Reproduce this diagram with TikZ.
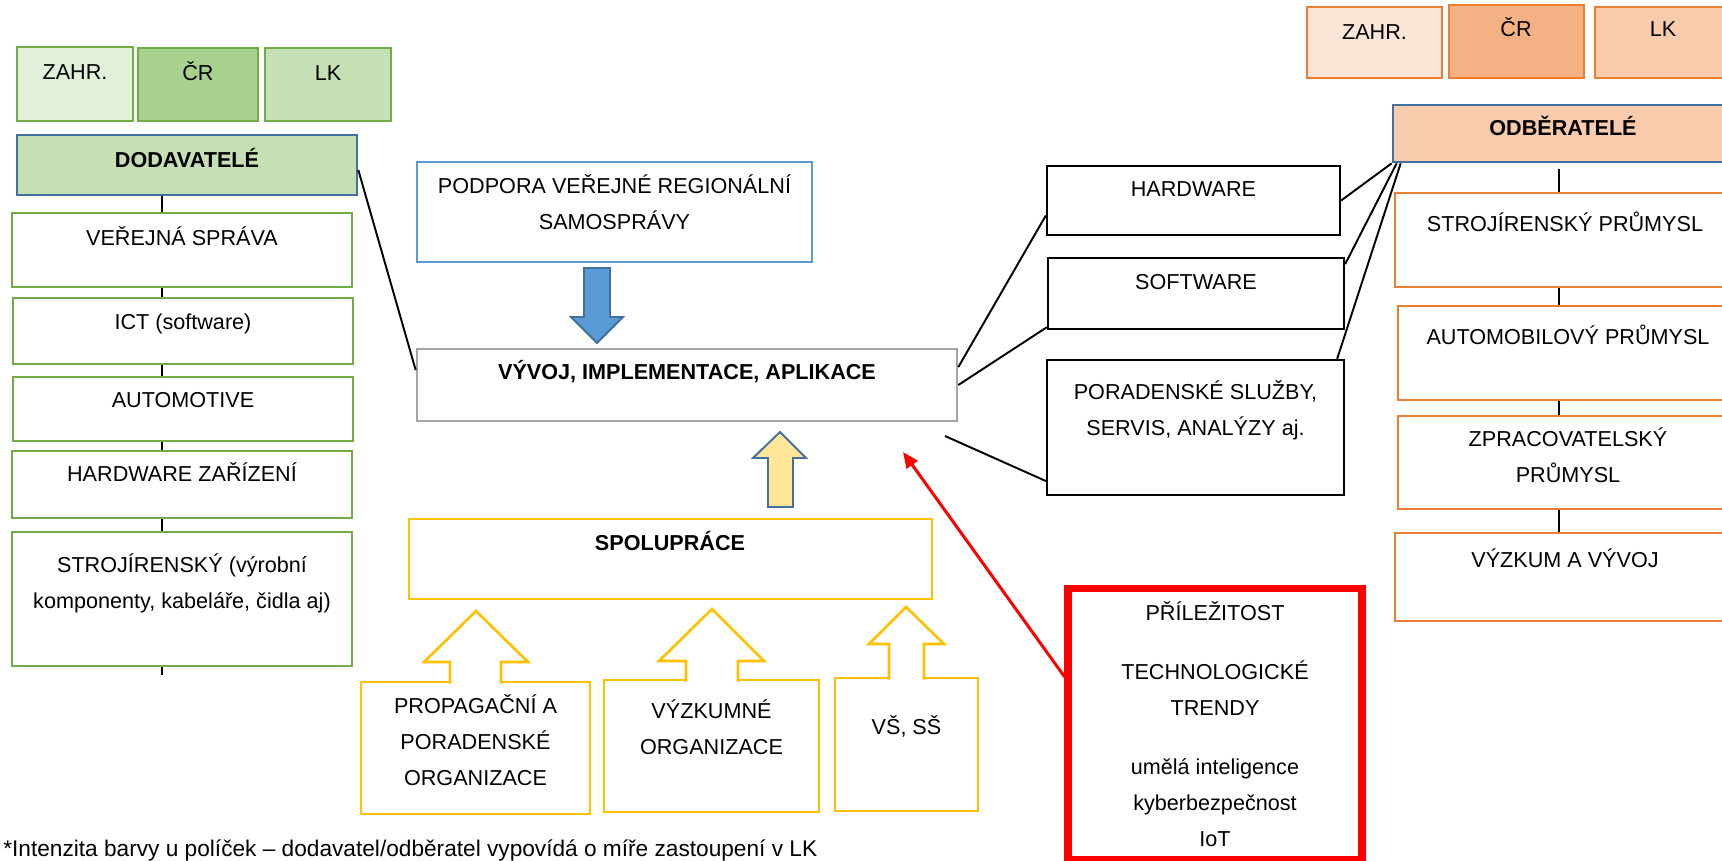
\documentclass[tikz,border=0pt]{standalone}
\usepackage{fontspec}
\setmainfont{Liberation Sans}
\usetikzlibrary{fit,calc,arrows.meta}

\definecolor{grn}{HTML}{70AD47}
\definecolor{grnA}{HTML}{E2F0D9}
\definecolor{grnB}{HTML}{A9D18E}
\definecolor{grnC}{HTML}{C5E0B4}
\definecolor{org}{HTML}{ED7D31}
\definecolor{orgA}{HTML}{FBE5D6}
\definecolor{orgB}{HTML}{F4B183}
\definecolor{orgC}{HTML}{F8CBAD}
\definecolor{navy}{HTML}{41719C}
\definecolor{sky}{HTML}{5B9BD5}
\definecolor{gry}{HTML}{A5A5A5}
\definecolor{ylw}{HTML}{FFC000}
\definecolor{ylwA}{HTML}{FFE699}

\tikzset{
  cell/.style={draw, inner sep=0pt, line width=1.5pt},
  gcell/.style={cell, draw=grn},
  ocell/.style={cell, draw=org},
  ycell/.style={cell, draw=ylw},
  kcell/.style={cell, draw=black, line width=1.3pt},
  headcell/.style={cell, draw=navy},
  txt/.style={font=\fontsize{12.3}{20.5}\selectfont, inner sep=0pt, text height=8.8pt, text depth=0pt},
  btxt/.style={txt, font=\fontsize{12.3}{20.5}\selectfont\bfseries},
  mtxt/.style={font=\fontsize{12.3}{20.5}\selectfont, inner sep=0pt, align=center},
  link/.style={line width=1.1pt},
  vlink/.style={line width=1.3pt},
  blockarrow/.style={line width=1.1pt, draw=navy, line join=miter},
  hollowarrow/.style={line width=1.5pt, draw=ylw, fill=white, line join=miter},
}

\begin{document}
\begin{tikzpicture}[x=0.02cm, y=-0.02cm]
    \useasboundingbox (0,0) rectangle (1722,861);
    \clip (0,0) rectangle (1722,861);

    % dodavatele
    \node[gcell, fill=grnA, fit={(17,47) (133,121)}] (lzahr) {};
    \node[gcell, fill=grnB, fit={(138,48) (258,121)}] (lcr) {};
    \node[gcell, fill=grnC, fit={(265,48) (391,121)}] (llk) {};
    \node[headcell, fill=grnC, fit={(17,135) (357,195)}] (dod) {};
    \node[gcell, fit={(12,213) (352,287)}] (vs) {};
    \node[gcell, fit={(13,298) (353,364)}] (ict) {};
    \node[gcell, fit={(13,377) (353,441)}] (aut) {};
    \node[gcell, fit={(12,451) (352,518)}] (hwz) {};
    \node[gcell, fit={(12,532) (352,666)}] (str) {};

    \node[txt] (lzahr-t) at (75,72) {ZAHR.};
    \node[txt] (lcr-t) at (198,73) {ČR};
    \node[txt] (llk-t) at (328,73) {LK};
    \node[btxt] (dod-t) at (187,160) {DODAVATELÉ};
    \node[txt] (vs-t) at (182,238) {VEŘEJNÁ SPRÁVA};
    \node[txt] (ict-t) at (183,322) {ICT (software)};
    \node[txt] (aut-t) at (183,400) {AUTOMOTIVE};
    \node[txt] (hwz-t) at (182,474) {HARDWARE ZAŘÍZENÍ};
    \node[mtxt] (str-t) at (182,582.9) {STROJÍRENSKÝ (výrobní\\komponenty, kabeláře, čidla aj)};

    \coordinate (lc) at (162,0);
    \draw[vlink] (dod.south -| lc) -- (vs.north -| lc);
    \draw[vlink] (vs.south -| lc) -- (ict.north -| lc);
    \draw[vlink] (ict.south -| lc) -- (aut.north -| lc);
    \draw[vlink] (aut.south -| lc) -- (hwz.north -| lc);
    \draw[vlink] (hwz.south -| lc) -- (str.north -| lc);
    \draw[vlink] (str.south -| lc) -- ++(0,8);

    % stred
    \node[cell, draw=sky, fit={(417,162) (812,262)}] (pod) {};
    \node[cell, draw=gry, fit={(417,349) (957,421)}] (vyv) {};
    \node[ycell, fit={(409,519) (932,599)}] (spo) {};
    \node[ycell, fit={(361,682) (590,814)}] (pro) {};
    \node[ycell, fit={(604,680) (819,812)}] (vyz) {};
    \node[ycell, fit={(835,678) (978,811)}] (vss) {};

    \node[mtxt] (pod-t) at (614.5,202) {PODPORA VEŘEJNÉ REGIONÁLNÍ\\SAMOSPRÁVY};
    \node[btxt] (vyv-t) at (687,372) {VÝVOJ, IMPLEMENTACE, APLIKACE};
    \node[btxt] (spo-t) at (670,543) {SPOLUPRÁCE};
    \node[mtxt] (pro-t) at (475.5,740.5) {PROPAGAČNÍ A\\PORADENSKÉ\\ORGANIZACE};
    \node[mtxt] (vyz-t) at (711.5,727) {VÝZKUMNÉ\\ORGANIZACE};
    \node[txt] (vss-t) at (906.5,727) {VŠ, SŠ};

    \draw[blockarrow, fill=sky] (584,268) -- (610,268) -- (610,317) -- (623,317) -- (597,343) -- (571,317) -- (584,317) -- cycle;
    \draw[blockarrow, fill=ylwA] (768,507) -- (793,507) -- (793,458) -- (806,458) -- (780,432) -- (753,458) -- (768,458) -- cycle;
    \draw[hollowarrow] (450,683.5) -- (450,662) -- (424,662) -- (476,611) -- (528,662) -- (501,662) -- (501,683.5);
    \draw[hollowarrow] (686,681.5) -- (686,661) -- (659,661) -- (712,609) -- (764,661) -- (738,661) -- (738,681.5);
    \draw[hollowarrow] (889,679.5) -- (889,644) -- (869,644) -- (906,607) -- (944,644) -- (924,644) -- (924,679.5);

    % prilezitost
    \node[cell, draw=red, line width=4pt, fit={(1068,588.5) (1362,859.5)}] (pri) {};
    \node[mtxt] (pri-t) at (1215,724) {PŘÍLEŽITOST\\[13.1pt] TECHNOLOGICKÉ\\ TRENDY\\[13.1pt] umělá inteligence\\ kyberbezpečnost\\ IoT};
    \coordinate (redtip) at (903,452);
    \draw[red, line width=1.7pt, -{Triangle[length=9pt,width=7.5pt]}] ($(pri.north west)!0.33!(pri.south west)$) -- (redtip);

    % vystupy
    \node[kcell, fit={(1047,166) (1340,235)}] (hw) {};
    \node[kcell, fit={(1048,258) (1344,329)}] (sw) {};
    \node[kcell, fit={(1047,360) (1344,495)}] (por) {};
    \node[txt] (hw-t) at (1193.5,189) {HARDWARE};
    \node[txt] (sw-t) at (1196,282) {SOFTWARE};
    \node[mtxt] (por-t) at (1195.5,410.4) {PORADENSKÉ SLUŽBY,\\SERVIS, ANALÝZY aj.};

    \draw[link] ($(dod.north east)!0.58!(dod.south east)$) -- ($(vyv.north west)!0.3!(vyv.south west)$);
    \draw[link] ($(vyv.north east)!0.26!(vyv.south east)$) -- ($(hw.north west)!0.71!(hw.south west)$);
    \draw[link] (vyv.east) -- ($(sw.north west)!0.96!(sw.south west)$);
    \coordinate (vyvend) at (945,436);
    \draw[link] (vyvend) -- ($(por.north west)!0.89!(por.south west)$);

    % odberatele
    \node[ocell, fill=orgA, fit={(1307,7) (1442,78)}] (rzahr) {};
    \node[ocell, fill=orgB, fit={(1449,5) (1584,78)}] (rcr) {};
    \node[ocell, fill=orgC, fit={(1595,7) (1731,78)}] (rlk) {};
    \node[headcell, fill=orgC, fit={(1393,105) (1733,162)}] (odb) {};
    \node[ocell, fit={(1395,193) (1735,287)}] (sp) {};
    \node[ocell, fit={(1398,306) (1738,400)}] (ap) {};
    \node[ocell, fit={(1398,416) (1738,509)}] (zp) {};
    \node[ocell, fit={(1395,533) (1735,621)}] (vv) {};

    \node[txt] (rzahr-t) at (1374.5,32) {ZAHR.};
    \node[txt] (rcr-t) at (1516,29) {ČR};
    \node[txt] (rlk-t) at (1663,29) {LK};
    \node[btxt] (odb-t) at (1563,128) {ODBĚRATELÉ};
    \node[txt] (sp-t) at (1565,224) {STROJÍRENSKÝ PRŮMYSL};
    \node[txt] (ap-t) at (1568,337) {AUTOMOBILOVÝ PRŮMYSL};
    \node[mtxt] (zp-t) at (1568,455) {ZPRACOVATELSKÝ\\PRŮMYSL};
    \node[txt] (vv-t) at (1565,560) {VÝZKUM A VÝVOJ};

    \draw[link] (odb.south west) -- (hw.east);
    \draw[link] ($(odb.south west)+(5,0)$) -- ($(sw.north east)!0.1!(sw.south east)$);
    \draw[link] ($(odb.south west)+(9,0)$) -- ($(por.north east)+(-8,0)$);

    \coordinate (rc) at (1559,0);
    \draw[vlink] ($(odb.south -| rc)+(0,6)$) -- (sp.north -| rc);
    \draw[vlink] (sp.south -| rc) -- (ap.north -| rc);
    \draw[vlink] (ap.south -| rc) -- (zp.north -| rc);
    \draw[vlink] (zp.south -| rc) -- (vv.north -| rc);

    \node[txt, font=\fontsize{12.9}{15}\selectfont, text height=9.2pt, anchor=west] (note) at (3,848.5) {*Intenzita barvy u políček – dodavatel/odběratel vypovídá o míře zastoupení v LK};
\end{tikzpicture}
\end{document}
